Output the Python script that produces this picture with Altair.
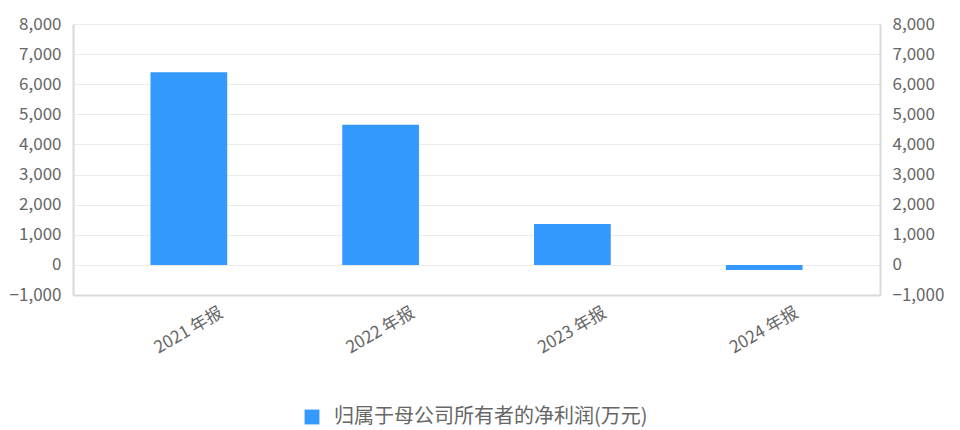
import altair as alt
import pandas as pd

categories = ["2021 年报", "2022 年报", "2023 年报", "2024 年报"]
values = [6400, 4650, 1360, -170]
series_name = "归属于母公司所有者的净利润(万元)"
y_ticks = [-1000, 0, 1000, 2000, 3000, 4000, 5000, 6000, 7000, 8000]

df = pd.DataFrame({"cat": categories, "val": values, "series": [series_name] * 4})

FONT = "Noto Sans CJK SC"
GRAY = "#666666"

yscale = alt.Scale(domain=[-1000, 8000], nice=False, zero=False)
xenc = alt.X("cat:N", sort=categories, title=None,
             scale=alt.Scale(paddingInner=0.6, paddingOuter=0.404),
             axis=alt.Axis(labelAngle=-30, labelAlign="center", labelBaseline="middle",
                           labelPadding=35, ticks=False, domainColor="#d9d9d9",
                           domainWidth=2, labelColor=GRAY, labelFontSize=17,
                           labelFont=FONT, grid=False))

def yaxis(orient, grid):
    return alt.Axis(values=y_ticks, format=",.0f", orient=orient, ticks=False,
                    domainColor="#d9d9d9", domainWidth=2, grid=grid,
                    gridColor="#ebebeb", labelColor=GRAY, labelFontSize=17,
                    labelFont=FONT, labelPadding=12)

left = alt.Chart(df).mark_bar(color="#3399ff").encode(
    x=xenc,
    y=alt.Y("val:Q", scale=yscale, title=None, axis=yaxis("left", True)),
    color=alt.Color("series:N", scale=alt.Scale(range=["#3399ff"]), title=None,
                    legend=alt.Legend(orient="none", legendX=229, legendY=383,
                                      symbolType="square", symbolSize=220,
                                      labelFontSize=20, labelColor=GRAY, labelFont=FONT,
                                      labelLimit=600, labelOffset=12,
                                      symbolStrokeWidth=0)),
)

right = alt.Chart(df).mark_bar(opacity=0).encode(
    x=xenc,
    y=alt.Y("val:Q", scale=yscale, title=None, axis=yaxis("right", False)),
)

chart = alt.layer(left, right).resolve_axis(y="independent").properties(
    width=807, height=271,
    autosize=alt.AutoSizeParams(type="none"),
    padding={"left": 65, "top": 16, "right": 72, "bottom": 133},
).configure_view(stroke=None)

chart.save("out.html", embed_options={"renderer": "svg", "actions": False})
